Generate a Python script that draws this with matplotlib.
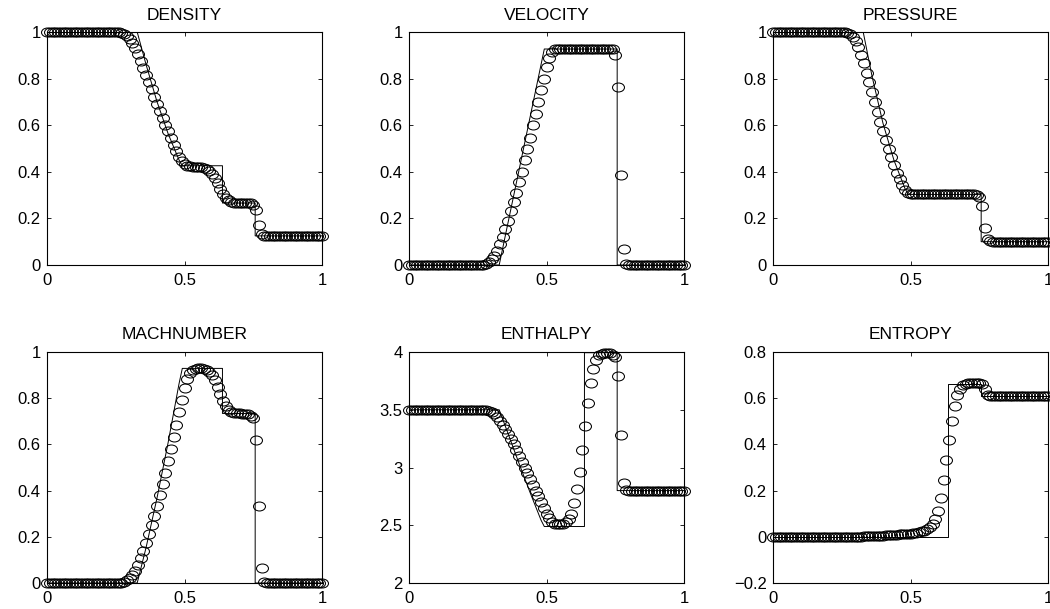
import numpy as np
import matplotlib
matplotlib.use('Agg')
import matplotlib.pyplot as plt
from matplotlib.path import Path

plt.rcParams['font.family'] = ['Liberation Sans', 'DejaVu Sans']

# cell positions of the numerical solution (101 points, dx = 0.01)
x_num = np.arange(101) / 100.0

density = ([1.0] * 26 +
           [0.999, 0.997, 0.992, 0.983, 0.97, 0.952, 0.93, 0.905, 0.877, 0.847,
            0.816, 0.785, 0.754, 0.723, 0.692, 0.662, 0.632, 0.602, 0.573, 0.545,
            0.517, 0.49, 0.465, 0.445, 0.432, 0.425, 0.423, 0.422, 0.421, 0.42,
            0.419, 0.417, 0.412, 0.403, 0.39, 0.372, 0.35, 0.327, 0.305, 0.288,
            0.277, 0.271, 0.268, 0.267, 0.266, 0.266, 0.265, 0.265, 0.264, 0.258,
            0.235, 0.17, 0.132, 0.126] +
           [0.125] * 21)

velocity = ([0.0] * 27 +
            [0.002, 0.006, 0.013, 0.025, 0.04, 0.06, 0.088, 0.12, 0.155, 0.19,
             0.23, 0.27, 0.31, 0.355, 0.40, 0.45, 0.50, 0.545, 0.60, 0.65,
             0.70, 0.75, 0.80, 0.85, 0.89, 0.915, 0.925] +
            [0.927] * 21 +
            [0.90, 0.765, 0.385, 0.068, 0.005] +
            [0.0] * 21)

pressure = ([1.0] * 26 +
            [0.999, 0.996, 0.99, 0.978, 0.96, 0.935, 0.903, 0.866, 0.826, 0.784,
             0.741, 0.698, 0.655, 0.614, 0.574, 0.535, 0.498, 0.462, 0.428, 0.396,
             0.367, 0.342, 0.323, 0.311, 0.305, 0.303] +
            [0.303] * 22 +
            [0.301, 0.293, 0.255, 0.16, 0.11, 0.101] +
            [0.1] * 21)

machnumber = ([0.0] * 27 +
              [0.002, 0.005, 0.011, 0.021, 0.035, 0.054, 0.078, 0.107, 0.14, 0.175,
               0.212, 0.25, 0.292, 0.335, 0.38, 0.427, 0.476, 0.527, 0.58, 0.633,
               0.686, 0.74, 0.793, 0.843, 0.885, 0.91, 0.922, 0.928, 0.93, 0.93,
               0.928, 0.924, 0.915, 0.9, 0.878, 0.85, 0.82, 0.79, 0.767, 0.75,
               0.741, 0.737, 0.735, 0.734, 0.733, 0.732, 0.73, 0.725, 0.715, 0.62,
               0.335, 0.065, 0.005] +
              [0.0] * 21)

enthalpy = ([3.5] * 27 +
            [3.499, 3.496, 3.49, 3.478, 3.46, 3.435, 3.405, 3.37, 3.33, 3.29,
             3.245, 3.20, 3.15, 3.10, 3.05, 3.0, 2.95, 2.90, 2.85, 2.80,
             2.75, 2.70, 2.65, 2.60, 2.56, 2.53, 2.515, 2.51, 2.51, 2.515,
             2.525, 2.55, 2.60, 2.69, 2.81, 2.96, 3.15, 3.36, 3.56, 3.73,
             3.85, 3.93, 3.97, 3.985, 3.99, 3.99, 3.99, 3.975, 3.96, 3.79,
             3.28, 2.87, 2.805] +
            [2.8] * 21)

entropy = ([0.0] * 31 +
           [0.001, 0.001, 0.002, 0.002, 0.003, 0.003, 0.004, 0.004, 0.005, 0.005,
            0.006, 0.007, 0.007, 0.008, 0.009, 0.010, 0.011, 0.012, 0.013, 0.014,
            0.016, 0.018, 0.02, 0.023, 0.027, 0.033, 0.043, 0.055, 0.075, 0.113,
            0.17, 0.248, 0.333, 0.42, 0.503, 0.568, 0.615, 0.64, 0.655, 0.663,
            0.666, 0.667, 0.667, 0.666, 0.665, 0.66, 0.64, 0.613, 0.609] +
           [0.609] * 21)

# exact solution, corner points of the piecewise curves
ex_x_rare = [0, 0.328, 0.36, 0.40, 0.44, 0.48, 0.492, 0.638, 0.638, 0.757, 0.757, 1]
density_ex = [1, 1, 0.861, 0.701, 0.565, 0.451, 0.426, 0.426, 0.266, 0.266, 0.125, 0.125]
machnumber_ex = [0, 0, 0.152, 0.368, 0.605, 0.862, 0.929, 0.929, 0.734, 0.734, 0, 0]
enthalpy_ex = [3.5, 3.5, 3.295, 3.036, 2.785, 2.545, 2.489, 2.489, 3.994, 3.994, 2.8, 2.8]

velocity_ex_x = [0, 0.328, 0.492, 0.757, 0.757, 1]
velocity_ex = [0, 0, 0.927, 0.927, 0, 0]

pressure_ex_x = [0, 0.328, 0.36, 0.40, 0.44, 0.48, 0.492, 0.757, 0.757, 1]
pressure_ex = [1, 1, 0.811, 0.608, 0.449, 0.328, 0.303, 0.303, 0.1, 0.1]

entropy_ex_x = [0, 0.638, 0.638, 0.757, 0.757, 1]
entropy_ex = [0, 0, 0.662, 0.662, 0.609, 0.609]

titles = ['DENSITY', 'VELOCITY', 'PRESSURE', 'MACHNUMBER', 'ENTHALPY', 'ENTROPY']
yticks_01 = [0, 0.2, 0.4, 0.6, 0.8, 1]
ylabels_01 = ['0', '0.2', '0.4', '0.6', '0.8', '1']

# circles look squashed in the original, so use an ellipse marker
circ = Path.unit_circle()
ellipse = Path(circ.vertices * np.array([1.0, 0.75]), circ.codes)


def draw_panel(ax, title, y_num, ex_x, ex_y, ylim, yticks, ylabels, tpad):
    ax.plot(ex_x, ex_y, color='black', lw=0.7)
    ax.plot(x_num, y_num, linestyle='none', marker=ellipse, markersize=8.6,
            markerfacecolor='none', markeredgecolor='black', markeredgewidth=0.75,
            clip_on=False)
    ax.set_xlim(0, 1)
    ax.set_ylim(*ylim)
    ax.set_xticks([0, 0.5, 1])
    ax.set_xticklabels(['0', '0.5', '1'])
    ax.set_yticks(yticks)
    ax.set_yticklabels(ylabels)
    ax.tick_params(direction='in', length=3, width=0.6, top=True, right=True,
                   labelsize=12)
    ax.tick_params(axis='x', pad=6)
    ax.tick_params(axis='y', pad=4.5)
    for s in ax.spines.values():
        s.set_linewidth(0.8)
    ax.set_title(title, fontsize=12.5, pad=tpad)


fig = plt.figure(figsize=(10.5, 6.09), dpi=100)
W, H = 1050.0, 609.0
lefts = [47, 409, 773]
tops = [32, 352]
heights = [233, 231]
width = 275

axs = []
for r in range(2):
    for c in range(3):
        rect = [lefts[c] / W, 1 - (tops[r] + heights[r]) / H, width / W, heights[r] / H]
        axs.append(fig.add_axes(rect))

draw_panel(axs[0], titles[0], density, ex_x_rare, density_ex, (0, 1),
           yticks_01, ylabels_01, 8.5)
draw_panel(axs[1], titles[1], velocity, velocity_ex_x, velocity_ex, (0, 1),
           yticks_01, ylabels_01, 8.5)
draw_panel(axs[2], titles[2], pressure, pressure_ex_x, pressure_ex, (0, 1),
           yticks_01, ylabels_01, 8.5)
draw_panel(axs[3], titles[3], machnumber, ex_x_rare, machnumber_ex, (0, 1),
           yticks_01, ylabels_01, 9.5)
draw_panel(axs[4], titles[4], enthalpy, ex_x_rare, enthalpy_ex, (2, 4),
           [2, 2.5, 3, 3.5, 4], ['2', '2.5', '3', '3.5', '4'], 9.5)
draw_panel(axs[5], titles[5], entropy, entropy_ex_x, entropy_ex, (-0.2, 0.8),
           [-0.2, 0, 0.2, 0.4, 0.6, 0.8], ['\u22120.2', '0', '0.2', '0.4', '0.6', '0.8'], 9.5)

fig.savefig('out.png', dpi=100)
